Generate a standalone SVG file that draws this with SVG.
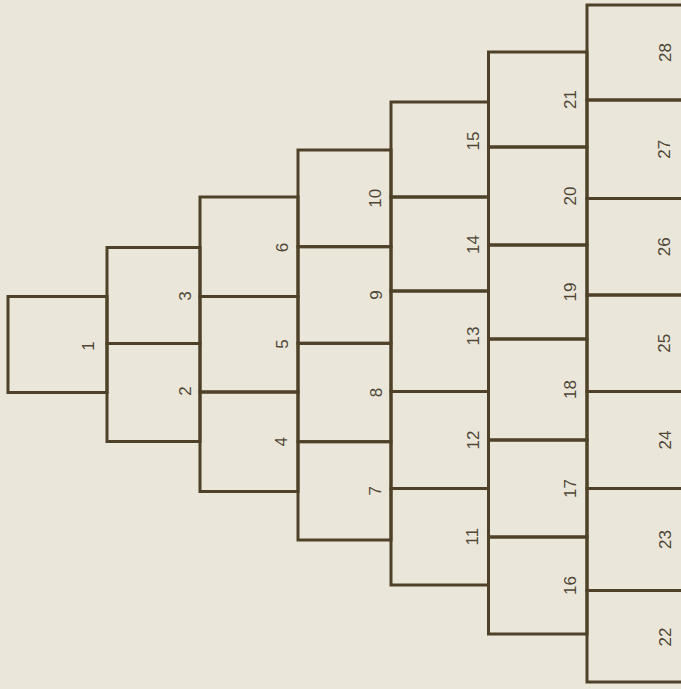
<svg xmlns="http://www.w3.org/2000/svg" width="681" height="689" viewBox="0 0 681 689">
<style>
.b{fill:none;stroke:#4f4128;stroke-width:3;stroke-linejoin:miter}
.t{font-family:"Liberation Sans",Arial,sans-serif;font-size:17px;fill:#4f4636;text-anchor:middle;dominant-baseline:central}
</style>
<rect x="0" y="0" width="681" height="689" fill="#ebe6da"/>
<g id="col1">
<g id="n1"><rect class="b" x="8" y="296.5" width="99" height="96"/><text class="t" x="88" y="346" transform="rotate(-90 88 346)">1</text></g>
</g>
<g id="col2">
<g id="n3"><rect class="b" x="107" y="247.5" width="93" height="96"/><text class="t" x="185" y="296" transform="rotate(-90 185 296)">3</text></g>
<g id="n2"><rect class="b" x="107" y="343.5" width="93" height="98"/><text class="t" x="185" y="391" transform="rotate(-90 185 391)">2</text></g>
</g>
<g id="col3">
<g id="n6"><rect class="b" x="200" y="197" width="98" height="99.5"/><text class="t" x="282" y="247.5" transform="rotate(-90 282 247.5)">6</text></g>
<g id="n5"><rect class="b" x="200" y="296.5" width="98" height="95.5"/><text class="t" x="282" y="344" transform="rotate(-90 282 344)">5</text></g>
<g id="n4"><rect class="b" x="200" y="392" width="98" height="99.5"/><text class="t" x="282" y="441.7" transform="rotate(-90 282 441.7)">4</text></g>
</g>
<g id="col4">
<g id="n10"><rect class="b" x="298" y="150" width="93" height="96.7"/><text class="t" x="376" y="198.3" transform="rotate(-90 376 198.3)">10</text></g>
<g id="n9"><rect class="b" x="298" y="246.7" width="93" height="96.6"/><text class="t" x="376" y="295" transform="rotate(-90 376 295)">9</text></g>
<g id="n8"><rect class="b" x="298" y="343.3" width="93" height="98.4"/><text class="t" x="376" y="392.5" transform="rotate(-90 376 392.5)">8</text></g>
<g id="n7"><rect class="b" x="298" y="441.7" width="93" height="98.3"/><text class="t" x="376" y="490.8" transform="rotate(-90 376 490.8)">7</text></g>
</g>
<g id="col5">
<g id="n15"><rect class="b" x="391" y="102" width="97.5" height="95"/><text class="t" x="473" y="141" transform="rotate(-90 473 141)">15</text></g>
<g id="n14"><rect class="b" x="391" y="197" width="97.5" height="94"/><text class="t" x="473" y="244.5" transform="rotate(-90 473 244.5)">14</text></g>
<g id="n13"><rect class="b" x="391" y="291" width="97.5" height="100.5"/><text class="t" x="473" y="336" transform="rotate(-90 473 336)">13</text></g>
<g id="n12"><rect class="b" x="391" y="391.5" width="97.5" height="97"/><text class="t" x="473" y="440" transform="rotate(-90 473 440)">12</text></g>
<g id="n11"><rect class="b" x="391" y="488.5" width="97.5" height="96.5"/><text class="t" x="473" y="536.7" transform="rotate(-90 473 536.7)">11</text></g>
</g>
<g id="col6">
<g id="n21"><rect class="b" x="488.5" y="52" width="98.5" height="95"/><text class="t" x="570" y="99.5" transform="rotate(-90 570 99.5)">21</text></g>
<g id="n20"><rect class="b" x="488.5" y="147" width="98.5" height="98"/><text class="t" x="570" y="196" transform="rotate(-90 570 196)">20</text></g>
<g id="n19"><rect class="b" x="488.5" y="245" width="98.5" height="94"/><text class="t" x="570" y="292" transform="rotate(-90 570 292)">19</text></g>
<g id="n18"><rect class="b" x="488.5" y="339" width="98.5" height="101"/><text class="t" x="570" y="389.5" transform="rotate(-90 570 389.5)">18</text></g>
<g id="n17"><rect class="b" x="488.5" y="440" width="98.5" height="97"/><text class="t" x="570" y="488.5" transform="rotate(-90 570 488.5)">17</text></g>
<g id="n16"><rect class="b" x="488.5" y="537" width="98.5" height="97"/><text class="t" x="570" y="585.5" transform="rotate(-90 570 585.5)">16</text></g>
</g>
<g id="col7">
<g id="n28"><rect class="b" x="587" y="5" width="97" height="95"/><text class="t" x="665" y="52.5" transform="rotate(-90 665 52.5)">28</text></g>
<g id="n27"><rect class="b" x="587" y="100" width="97" height="98.5"/><text class="t" x="665" y="149.3" transform="rotate(-90 665 149.3)">27</text></g>
<g id="n26"><rect class="b" x="587" y="198.5" width="97" height="96.5"/><text class="t" x="665" y="246.8" transform="rotate(-90 665 246.8)">26</text></g>
<g id="n25"><rect class="b" x="587" y="295" width="97" height="96.5"/><text class="t" x="665" y="343.3" transform="rotate(-90 665 343.3)">25</text></g>
<g id="n24"><rect class="b" x="587" y="391.5" width="97" height="97"/><text class="t" x="665" y="440" transform="rotate(-90 665 440)">24</text></g>
<g id="n23"><rect class="b" x="587" y="488.5" width="97" height="102"/><text class="t" x="665" y="539.5" transform="rotate(-90 665 539.5)">23</text></g>
<g id="n22"><rect class="b" x="587" y="590.5" width="97" height="91.5"/><text class="t" x="665" y="637" transform="rotate(-90 665 637)">22</text></g>
</g>
<g id="connectors"></g>
</svg>
